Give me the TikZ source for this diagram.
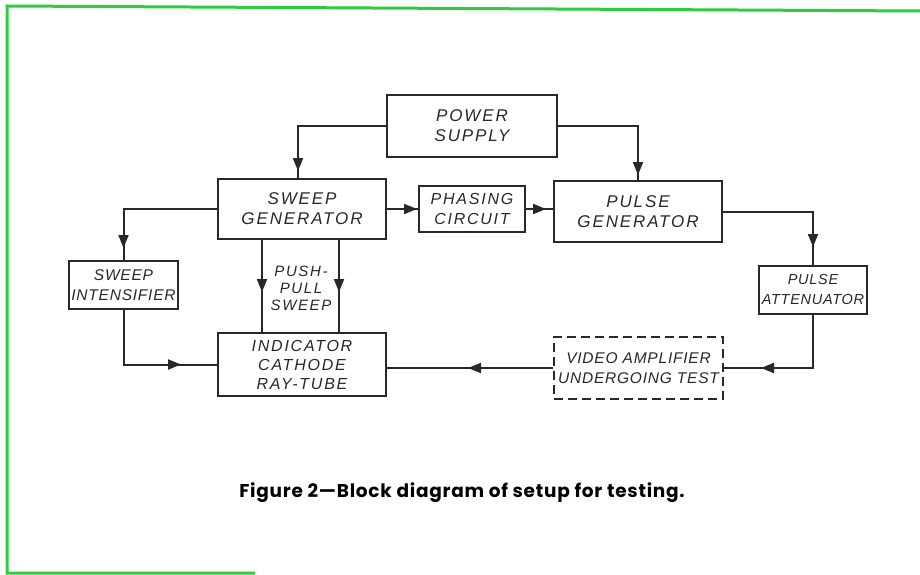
\documentclass[tikz,border=0pt]{standalone}
\usepackage{fontspec}
\setmainfont{Liberation Sans}
\newfontfamily\lettering[LetterSpace=11]{Liberation Sans}
\newfontfamily\smalllettering[LetterSpace=5]{Liberation Sans}
\newfontfamily\capfont[LetterSpace=4]{Poppins}
\usepackage{tikz}
\usetikzlibrary{positioning,arrows.meta,calc,decorations.markings}
\definecolor{scangreen}{RGB}{45,205,60}
\definecolor{inkgray}{RGB}{40,40,38}

\begin{document}
\begin{tikzpicture}[x=1pt, y=-1pt,
  block/.style={draw=inkgray, line width=2pt, align=center, inner sep=0pt, text=inkgray,
    font=\lettering\itshape\fontsize{17}{20}\selectfont},
  smallblock/.style={block, font=\smalllettering\itshape\fontsize{15.5}{20}\selectfont},
  wire/.style={draw=inkgray, line width=2pt},
  headat/.style={postaction={decorate}, decoration={markings,
    mark=at position #1 with {\arrow{Triangle[length=13pt,width=10pt]}}}}]
\useasboundingbox (0,0) rectangle (920,575);
% scan border
\draw[scangreen, line width=3pt] (255,573) -- (7,573) -- (7,6) -- (920,11);

% blocks
\node[block, minimum width=170pt, minimum height=62pt] (power) at (472,126) {POWER\\SUPPLY};
\node[block, minimum width=168pt, minimum height=60pt] (sweepgen) at (302,209) {SWEEP\\GENERATOR};
\node[block, minimum width=106pt, minimum height=46pt, font=\lettering\itshape\fontsize{16}{20}\selectfont] (phasing) at (472,209) {PHASING\\CIRCUIT};
\node[block, minimum width=168pt, minimum height=61pt] (pulsegen) at (638,211.5) {PULSE\\GENERATOR};
\node[smallblock, minimum width=109pt, minimum height=48pt] (intens) at (123.5,285) {SWEEP\\INTENSIFIER};
\node[smallblock, minimum width=108pt, minimum height=48pt, font=\smalllettering\itshape\fontsize{14.5}{20}\selectfont] (atten) at (813,290) {PULSE\\ATTENUATOR};
\node[block, minimum width=168pt, minimum height=63pt, font=\lettering\itshape\fontsize{16}{19}\selectfont] (indicator) at (302,364.5) {INDICATOR\\CATHODE\\RAY-TUBE};
\node[smallblock, dash pattern=on 9pt off 5pt, minimum width=169pt, minimum height=62pt] (video) at (638.5,368) {VIDEO AMPLIFIER\\UNDERGOING TEST};
\node[align=center, inner sep=0pt, text=inkgray, font=\lettering\itshape\fontsize{15}{17}\selectfont] (pplabel) at (301,288) {PUSH-\\PULL\\SWEEP};

% connections
\draw[wire, headat=-7pt] (power.west) -| ([xshift=-4pt]sweepgen.north);
\draw[wire, headat=-5pt] (power.east) -| (pulsegen.north);
\draw[wire, headat=-1pt] (sweepgen.east) -- (phasing.west);
\draw[wire, headat=-7pt] (phasing.east) -- (phasing.east -| pulsegen.west);
\draw[wire, headat=-12pt] (sweepgen.west) -| (intens.north);
\draw[wire, headat=-36pt] (intens.south) |- (indicator.west);
\draw[wire, headat=-40pt] ([xshift=-40pt]sweepgen.south) -- ([xshift=-40pt]indicator.north);
\draw[wire, headat=-40pt] ([xshift=37pt]sweepgen.south) -- ([xshift=37pt]indicator.north);
\draw[wire, headat=-18pt] (pulsegen.east) -| (atten.north);
\draw[wire, headat=-37pt] (atten.south) |- (video.east);
\draw[wire, headat=-81pt] (video.west) -- (video.west -| indicator.east);

% caption
\node[inner sep=0pt, font=\capfont\bfseries\fontsize{18.5}{20}\selectfont] (caption) at (462,493)
  {Figure 2\textemdash Block diagram of setup for testing.};
\end{tikzpicture}
\end{document}
